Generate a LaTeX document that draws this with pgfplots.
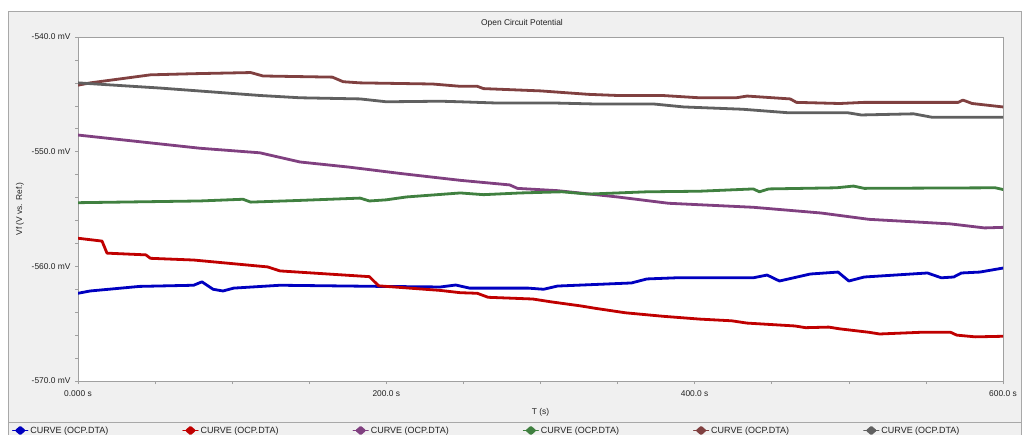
\documentclass[border=0pt]{standalone}
\usepackage{pgfplots}
\pgfplotsset{compat=1.18}
\usepackage{fontspec}
\setmainfont{Liberation Sans}

\definecolor{frameBg}{HTML}{F0F0F0}
\definecolor{frameLine}{HTML}{A8A8A8}
\definecolor{axisGray}{HTML}{A0A0A0}
\definecolor{labelText}{HTML}{222222}
\definecolor{cBlue}{RGB}{0,0,192}
\definecolor{cRed}{RGB}{192,0,0}
\definecolor{cPurple}{RGB}{128,64,128}
\definecolor{cGreen}{RGB}{64,128,64}
\definecolor{cBrown}{RGB}{128,64,64}
\definecolor{cGray}{RGB}{96,96,96}

\newcommand{\smallfont}{\fontsize{8.4}{10}\selectfont}
\newcommand{\legfont}{\fontsize{9}{10.5}\selectfont}

\begin{document}
\begin{tikzpicture}[x=1pt,y=1pt]
\useasboundingbox (0,0) rectangle (1022,434);
\fill[white] (0,0) rectangle (1022,434);
\fill[frameBg] (8,-5) rectangle (1021,423);
\draw[frameLine] (8,-5) -- (8,423) -- (1021,423) -- (1021,-5);
\draw[frameLine] (8,12.3) -- (1021,12.3);
\node[font=\smallfont, text=labelText] at (522,411) {Open Circuit Potential};

\begin{axis}[
    at={(78pt,53pt)}, anchor=south west,
    scale only axis, width=925pt, height=344pt,
    xmin=0, xmax=600, ymin=-570, ymax=-540,
    axis background/.style={fill=white},
    axis line style={draw=axisGray, line width=0.6pt},
    tick pos=left, tick align=outside, major tick length=3pt,
    tick style={draw=axisGray, line width=0.6pt},
    xtick={0,50,...,600},
    xticklabels={0.000 s,{},{},{},200.0 s,{},{},{},400.0 s,{},{},{},600.0 s},
    ytick={-570,-568,...,-540},
    yticklabels={-570.0 mV,{},{},{},{},-560.0 mV,{},{},{},{},-550.0 mV,{},{},{},{},-540.0 mV},
    ticklabel style={font=\smallfont, text=labelText},
    xticklabel style={yshift=-3pt},
    yticklabel style={xshift=-1pt},
    xlabel={T (s)}, ylabel={Vf (V vs. Ref.)},
    label style={font=\smallfont, text=labelText},
    xlabel style={at={(axis description cs:0.5,-0.09)}, anchor=center},
    ylabel style={at={(axis description cs:-0.0627,0.5)}, anchor=center},
    every axis plot/.append style={line width=2.8pt, line join=round, line cap=round},
    legend columns=6,
    legend cell align=left,
    legend style={at={(axis description cs:-0.0714,-0.1439)}, anchor=west,
        draw=none, fill=none, inner sep=0pt, font=\legfont, text=labelText,
        /tikz/every even column/.append style={column sep=72pt}},
    legend image code/.code={
        \draw[line width=1.2pt] (0pt,0pt) -- (15pt,0pt);
        \fill (7.5pt,3pt) -- (11pt,0pt) -- (7.5pt,-3pt) -- (4pt,0pt) -- cycle;
    },
]

% blue
\addplot[cBlue] coordinates {
(0,-562.35) (7.8,-562.15) (40,-561.75) (75,-561.65) (80.4,-561.35) (87.6,-562.0)
(94,-562.15) (101,-561.9) (131,-561.65) (196,-561.75) (235,-561.8) (245,-561.63)
(254,-561.9) (292,-561.9) (302,-562.0) (311,-561.72) (359,-561.45) (369,-561.1)
(388,-561.0) (438,-561.0) (447,-560.76) (455,-561.28) (475,-560.67) (493,-560.5)
(500,-561.28) (510,-560.93) (551,-560.58) (560,-561.0) (568,-560.93) (573,-560.58)
(585,-560.5) (600,-560.15)
};
\addlegendentry{CURVE (OCP.DTA)}

% red
\addplot[cRed] coordinates {
(0,-557.55) (15.6,-557.8) (18.8,-558.85) (44,-559.0) (47,-559.3) (75,-559.45)
(123,-560.05) (131,-560.4) (189,-560.9) (195,-561.7) (235,-562.1) (248,-562.3)
(259,-562.35) (266,-562.7) (295,-562.85) (307,-563.1) (326,-563.45) (335,-563.65)
(355,-564.05) (379,-564.35) (403,-564.6) (424,-564.75) (434,-564.95) (465,-565.2)
(472,-565.35) (487,-565.3) (494,-565.45) (513,-565.75) (520,-565.9) (547,-565.75)
(566,-565.75) (570,-566.0) (582,-566.15) (600,-566.1)
};
\addlegendentry{CURVE (OCP.DTA)}

% purple
\addplot[cPurple] coordinates {
(0,-548.55) (79,-549.7) (118,-550.1) (144,-550.9) (176,-551.35) (209,-551.9)
(235,-552.3) (248,-552.5) (280,-552.9) (285,-553.2) (311,-553.4) (350,-553.95)
(383,-554.5) (438,-554.85) (482,-555.35) (513,-555.9) (566,-556.3) (588,-556.65)
(600,-556.6)
};
\addlegendentry{CURVE (OCP.DTA)}

% green
\addplot[cGreen] coordinates {
(0,-554.45) (79,-554.3) (107,-554.15) (112,-554.4) (144,-554.25) (183,-554.05)
(189,-554.3) (200,-554.2) (213,-553.95) (248,-553.6) (263,-553.75) (287,-553.6)
(314,-553.5) (331,-553.7) (350,-553.6) (369,-553.5) (403,-553.45) (438,-553.25)
(442,-553.5) (448,-553.25) (492,-553.15) (503,-553.0) (510,-553.2) (595,-553.15)
(600,-553.3)
};
\addlegendentry{CURVE (OCP.DTA)}

% brown
\addplot[cBrown] coordinates {
(0,-544.2) (8,-544.0) (47,-543.3) (75,-543.2) (112,-543.1) (120,-543.4)
(165,-543.5) (172,-543.9) (183,-544.0) (230,-544.1) (248,-544.3) (259,-544.3)
(263,-544.5) (300,-544.7) (331,-545.0) (350,-545.1) (379,-545.1) (403,-545.3)
(427,-545.3) (434,-545.15) (462,-545.4) (466,-545.7) (494,-545.8) (510,-545.7)
(571,-545.7) (574,-545.5) (580,-545.8) (600,-546.1)
};
\addlegendentry{CURVE (OCP.DTA)}

% gray
\addplot[cGray] coordinates {
(0,-544.0) (53,-544.45) (118,-545.1) (144,-545.3) (183,-545.4) (200,-545.65)
(235,-545.6) (248,-545.65) (270,-545.75) (307,-545.75) (338,-545.85) (374,-545.85)
(393,-546.1) (431,-546.3) (460,-546.6) (499,-546.6) (508,-546.8) (542,-546.7)
(554,-547.0) (600,-547.0)
};
\addlegendentry{CURVE (OCP.DTA)}

\end{axis}
\end{tikzpicture}
\end{document}
